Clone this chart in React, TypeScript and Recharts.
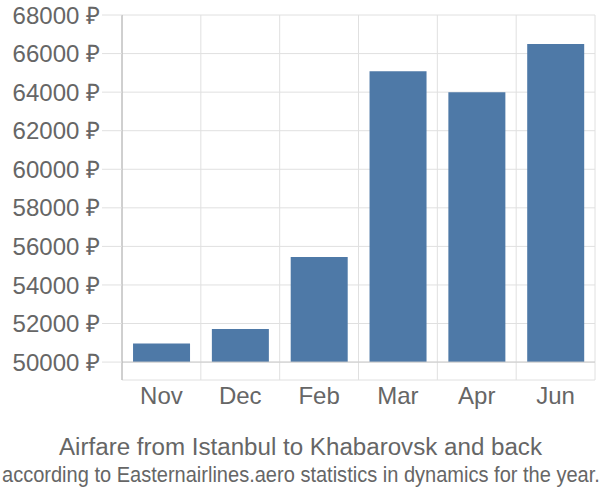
import React from 'react';
import { BarChart, Bar, XAxis, YAxis, CartesianGrid, ReferenceLine } from 'recharts';

const months = ['Nov', 'Dec', 'Feb', 'Mar', 'Apr', 'Jun'];
const prices = [50960, 51720, 55450, 65080, 64000, 66500];
const yTicks = [50000, 52000, 54000, 56000, 58000, 60000, 62000, 64000, 66000, 68000];
const baseline = 50000;
const yMin = 49070;
const yMax = 68000;
const title = 'Airfare from Istanbul to Khabarovsk and back';
const subtitle = 'according to Easternairlines.aero statistics in dynamics for the year.';

const data = months.map((m, i) => ({ month: m, price: prices[i] }));

const FONT = '"Liberation Sans", Arial, sans-serif';
const TEXT = '#666666';

const YTick = (props: any) => {
  const { x, y, payload } = props;
  return (
    <text x={x} y={y} dy="0.36em" textAnchor="end" fontFamily={FONT} fontSize={24} fill={TEXT}>
      {`${payload.value} ₽`}
    </text>
  );
};

const XTick = (props: any) => {
  const { x, y, payload } = props;
  return (
    <text x={x} y={y} dy="0.72em" textAnchor="middle" fontFamily={FONT} fontSize={24} fill={TEXT}>
      {payload.value}
    </text>
  );
};

const verticalGen = (props: any) => {
  const { offset } = props;
  const n = months.length;
  const pts: number[] = [];
  for (let i = 0; i <= n; i++) pts.push(offset.left + (offset.width * i) / n);
  return pts;
};

export default function App() {
  return (
    <div style={{ position: 'absolute', left: 0, top: 0, width: 600, height: 500, background: '#fff' }}>
      <BarChart
        width={600}
        height={500}
        data={data}
        margin={{ top: 15, right: 5, left: 0, bottom: 90 }}
        barCategoryGap="14%"
      >
        <CartesianGrid stroke="#e0e0e0" verticalCoordinatesGenerator={verticalGen} />
        <XAxis
          dataKey="month"
          height={30}
          axisLine={false}
          tickLine={false}
          tickSize={0}
          tickMargin={7}
          tick={<XTick />}
          interval={0}
        />
        <YAxis
          width={122}
          domain={[yMin, yMax]}
          ticks={yTicks}
          allowDataOverflow
          axisLine={{ stroke: '#b0b0b0' }}
          tickLine={{ stroke: '#e0e0e0' }}
          tickSize={20}
          tickMargin={2}
          tick={<YTick />}
          interval={0}
        />
        <ReferenceLine y={baseline} stroke="#cccccc" />
        <Bar dataKey={(d: any) => [baseline, d.price]} fill="#4e79a7" isAnimationActive={false} />
      </BarChart>
      <svg width={600} height={70} style={{ position: 'absolute', left: 0, top: 430 }}>
        <text
          x={59}
          y={25}
          textLength={483}
          lengthAdjust="spacingAndGlyphs"
          fontFamily={FONT}
          fontSize={23.5}
          fill={TEXT}
        >
          {title}
        </text>
        <g transform="translate(2,52) scale(0.911,1)">
          <text x={0} y={0} fontFamily={FONT} fontSize={22} fill={TEXT}>
            {subtitle}
          </text>
        </g>
      </svg>
    </div>
  );
}
